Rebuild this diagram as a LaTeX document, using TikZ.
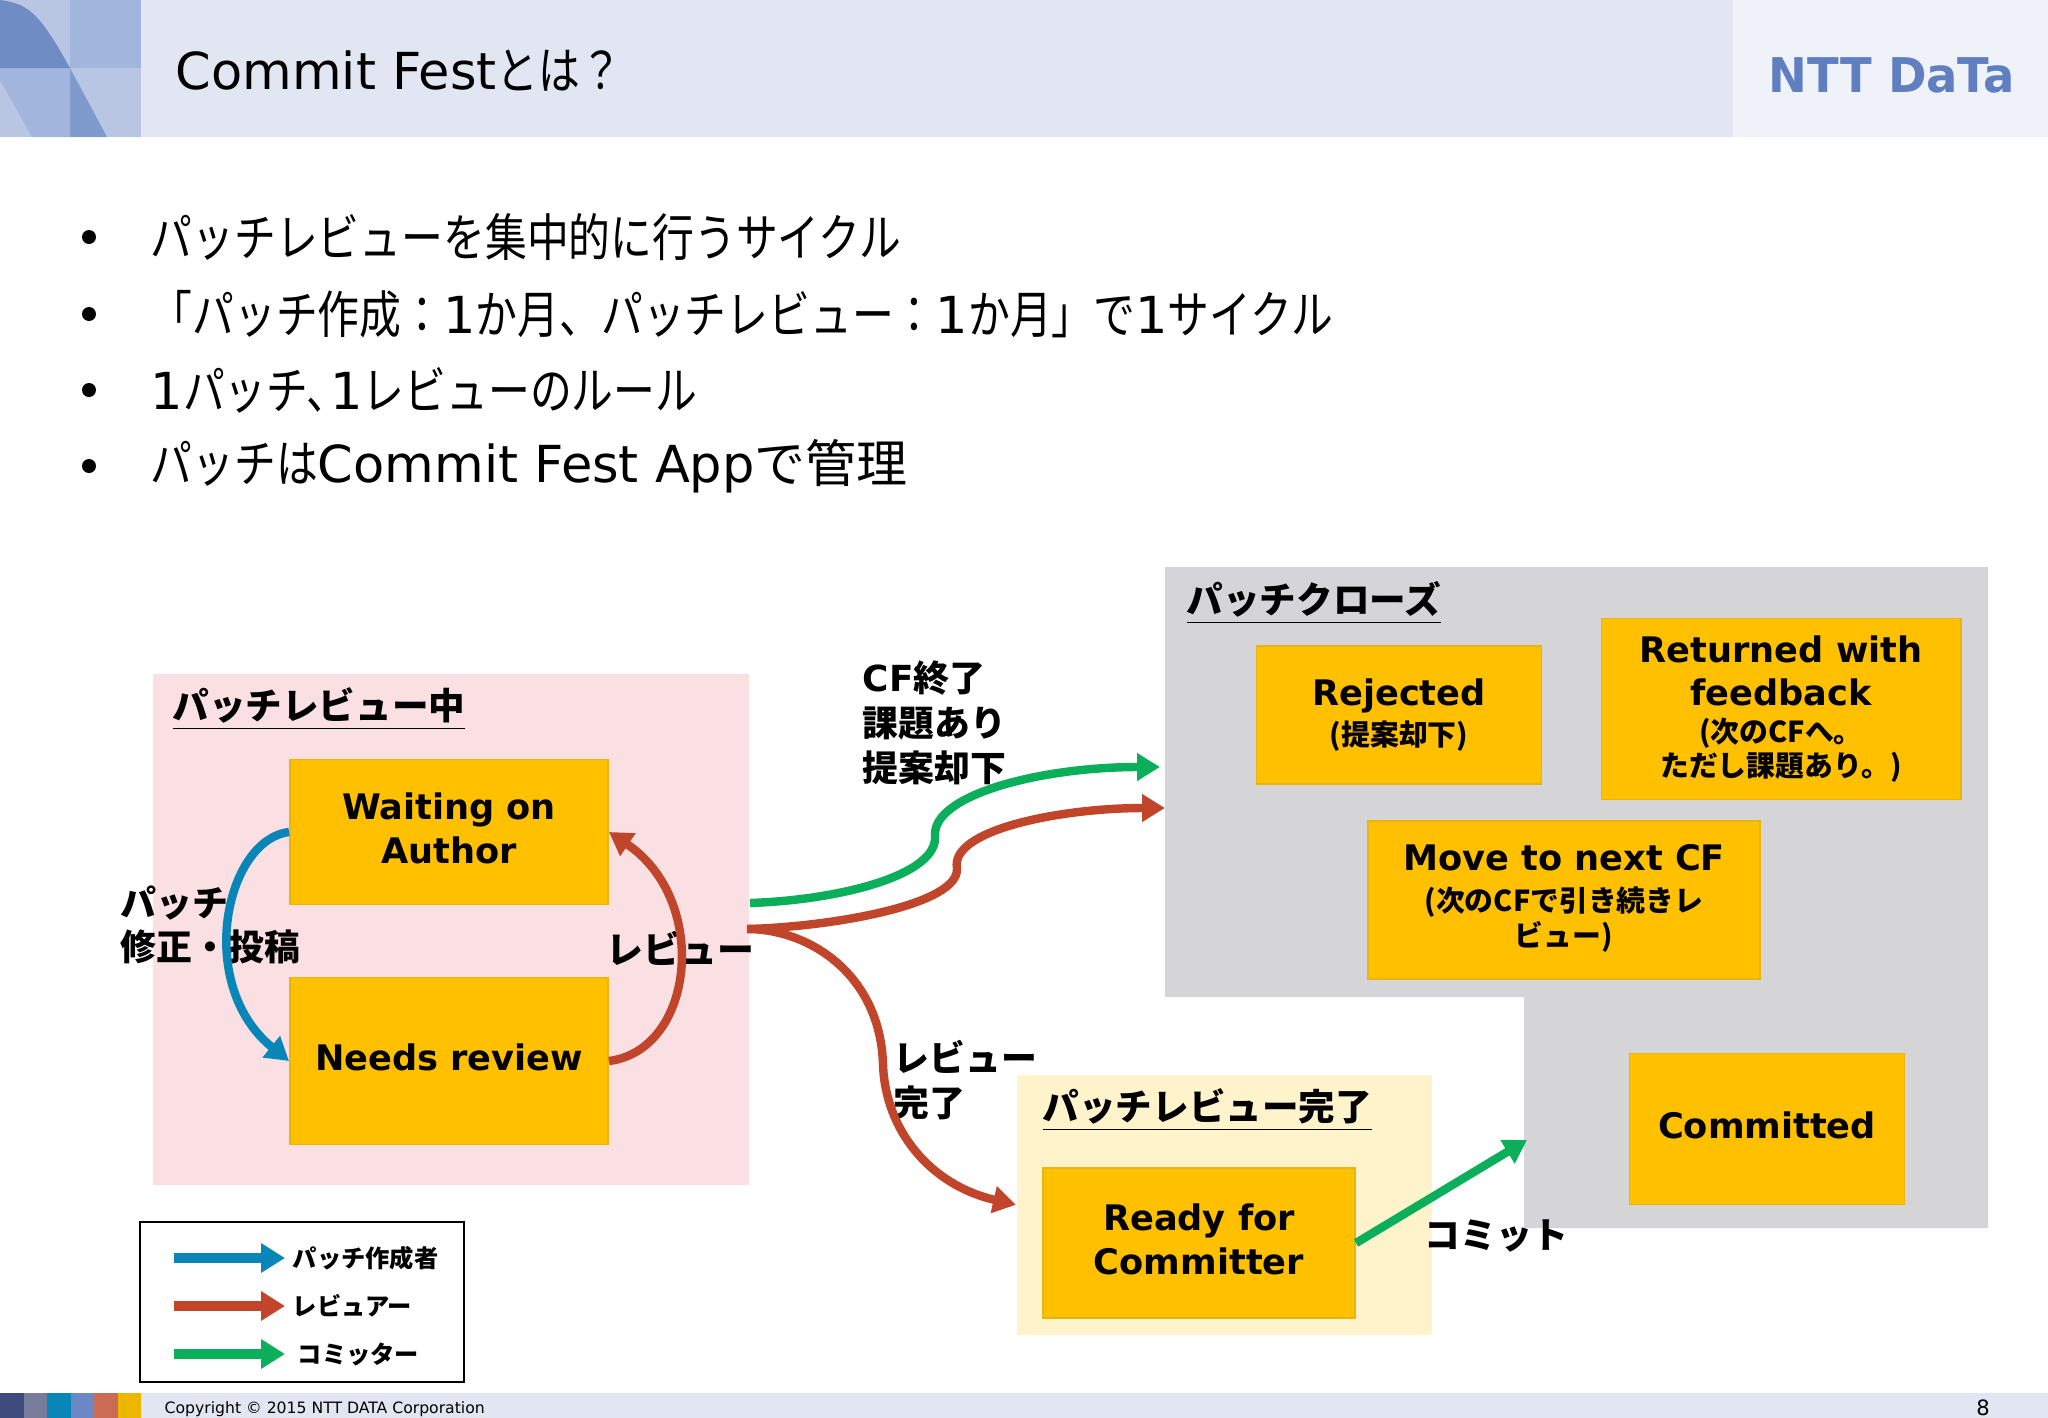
\documentclass[tikz,border=0pt]{standalone}
\usepackage{fontspec}
\usetikzlibrary{arrows.meta}
\setmainfont{DejaVu Sans}
\newfontfamily\jp{Noto Sans CJK JP}
\newfontfamily\jpthin[FakeStretch=.82]{Noto Sans CJK JP}
\newfontfamily\logofont[FakeStretch=.97]{DejaVu Sans}
\newcommand\subjp{\jp\fontsize{8.2pt}{10pt}\selectfont}
\newcommand\uptxt[1]{\raisebox{1.1pt}[\height][\depth]{#1}}
\definecolor{headbg}{HTML}{E1E6F2}
\definecolor{headlt}{HTML}{EFF3F9}
\definecolor{logoa}{HTML}{B8C6E4}
\definecolor{logob}{HTML}{A2B5DC}
\definecolor{logoc}{HTML}{6F8CC4}
\definecolor{logod}{HTML}{7F9BCD}
\definecolor{nttblue}{HTML}{5F7FC0}
\definecolor{stateor}{HTML}{FFC000}
\definecolor{stateln}{HTML}{E6B512}
\definecolor{pinkbg}{HTML}{FBE0E3}
\definecolor{creambg}{HTML}{FFF3CB}
\definecolor{greybg}{HTML}{D5D5D8}
\definecolor{authorc}{HTML}{0A85B8}
\definecolor{reviewc}{HTML}{C0452A}
\definecolor{commitc}{HTML}{0BAE5A}

\begin{document}
\begin{tikzpicture}[
        x=.01cm, y=-.01cm,
        state/.style={draw=stateln, line width=.5pt, fill=stateor, align=center, inner sep=0pt,
            font=\fontsize{10pt}{12.4pt}\selectfont\bfseries},
        zone/.style={inner sep=0pt, anchor=north west},
        zonetitle/.style={anchor=west, inner sep=0pt, font=\fontsize{10.4pt}{12pt}\selectfont\bfseries},
        lbl/.style={anchor=west, inner sep=0pt, align=left, font=\fontsize{10.2pt}{12.7pt}\selectfont\bfseries},
        bullet/.style={anchor=west, inner sep=0pt, font=\fontsize{14.5pt}{17pt}\selectfont},
        flow/.style={line width=2.4pt, -{Triangle[length=6.5pt, width=7.5pt]}},
        legendarrow/.style={line width=2.6pt, -{Triangle[length=6.8pt, width=8pt]}},
    ]
    \useasboundingbox (0, 0) rectangle (2048, 1418);

    %% header band and logo
    \fill[headbg] (0, 0) rectangle (1733, 137);
    \fill[headlt] (1733, 0) rectangle (2048, 137);
    \fill[logoa] (0, 0) rectangle (141, 137);
    \fill[logob] (70, 0) rectangle (141, 68);
    \fill[logob] (0, 68) -- (70, 68) -- (70, 137) -- (32, 137) -- (0, 80) -- cycle;
    \fill[logod] (70, 68) -- (107, 137) -- (70, 137) -- cycle;
    \fill[logoc] (0, 0) .. controls (27, 4) and (38, 10) .. (70, 68) -- (0, 68) -- cycle;
    \node[anchor=west, inner sep=0pt, font=\fontsize{14.5pt}{18pt}\selectfont] (title) at (175, 71)
        {Commit Fest{\jpthin とは？}};
    \node[anchor=west, inner sep=0pt, text=nttblue, font=\fontsize{13.6pt}{16pt}\selectfont\bfseries] (logo) at (1768, 75)
        {\logofont NTT DaTa};

    %% bullet list
    \foreach \i/\y/\t in {1/237/{パッチレビューを集中的に行うサイクル},
            2/314/{「パッチ作成：{\rmfamily 1}か月、パッチレビュー：{\rmfamily 1}か月」で{\rmfamily 1}サイクル},
            3/390/{{\rmfamily 1}パッチ、\hspace{-5pt}{\rmfamily 1}レビューのルール},
            4/466/{パッチは{\rmfamily Commit Fest App}{\jp で管理}}}{
        \fill (89, \y) circle (7);
        \node[bullet] (bul\i) at (150, \y) {\jpthin \t};
    }

    %% the three zones
    \node[zone, fill=pinkbg, minimum width=5.96cm, minimum height=5.11cm] (reviewzone) at (152, 673) {};
    \node[zone, fill=creambg, minimum width=4.15cm, minimum height=2.60cm] (donezone) at (1016, 1074) {};
    \fill[greybg] (1165, 567) -- (1988, 567) -- (1988, 1228) -- (1524, 1228) -- (1524, 997) -- (1165, 997) -- cycle;
    \node[zonetitle] (reviewtitle) at (172, 709) {\jp\underline{パッチレビュー中}};
    \node[zonetitle] (closetitle) at (1186, 603) {\jp\underline{パッチクローズ}};
    \node[zonetitle] (donetitle) at (1042, 1110) {\jp\underline{パッチレビュー完了}};

    %% states
    \node[state, minimum width=3.18cm, minimum height=1.45cm] (waiting) at (449, 832) {\uptxt{Waiting on}\\\uptxt{Author}};
    \node[state, minimum width=3.18cm, minimum height=1.67cm] (needs) at (449, 1061) {\uptxt{Needs review}};
    \node[state, minimum width=2.85cm, minimum height=1.38cm] (rejected) at (1399, 715)
        {Rejected\\[-1pt]{\subjp (提案却下)}};
    \node[state, minimum width=3.59cm, minimum height=1.81cm] (returned) at (1781, 709)
        {Returned with\\feedback\\[-1.8pt]{\subjp (次のCFへ。}\\[-2.8pt]{\subjp ただし課題あり。)}};
    \node[state, minimum width=3.92cm, minimum height=1.58cm] (movenext) at (1564, 900)
        {\uptxt{Move to next CF}\\[-1.8pt]{\subjp (次のCFで引き続きレ}\\[-2.4pt]{\subjp ビュー)}};
    \node[state, minimum width=2.75cm, minimum height=1.51cm] (committed) at (1767, 1129) {\uptxt{Committed}};
    \node[state, minimum width=3.12cm, minimum height=1.50cm] (ready) at (1199, 1243) {\uptxt{Ready for}\\\uptxt{Committer}};

    %% labels
    \node[lbl] (fixlbl) at (120, 925) {{\jp パッチ}\\{\jp 修正・投稿}};
    \node[lbl] (reviewlbl) at (606, 948) {\jp\fontsize{10.5pt}{12pt}\selectfont レビュー};
    \node[lbl] (closelbl) at (862, 723) {CF{\jp 終了}\\{\jp 課題あり}\\{\jp 提案却下}};
    \node[lbl] (donelbl) at (893, 1080) {{\jp レビュー}\\{\jp 完了}};
    \node[lbl] (commitlbl) at (1424, 1236) {\jp コミット};

    %% flows between the states
    \coordinate (greenout) at (750, 903);
    \coordinate (greenmid) at (935, 836);
    \coordinate (greenin) at (1160, 767);
    \coordinate (redout) at (747, 929);
    \coordinate (redmid) at (957, 868);
    \coordinate (redin) at (1165, 808);
    \coordinate (donemid) at (883, 1064);
    \coordinate (commitin) at (1527, 1140);
    \draw[flow, authorc] (waiting.west) .. controls (225, 840) and (195, 985) .. (needs.west);
    \draw[flow, reviewc] (needs.east) .. controls (695, 1050) and (710, 900) .. (waiting.east);
    \draw[flow, commitc] (greenout) .. controls (840, 900) and (938, 875) .. (greenmid)
        .. controls (932, 795) and (1040, 767) .. (greenin);
    \draw[flow, reviewc] (redout) .. controls (830, 927) and (960, 905) .. (redmid)
        .. controls (950, 830) and (1060, 808) .. (redin);
    \draw[flow, reviewc] (redout) .. controls (810, 929) and (880, 975) .. (donemid)
        .. controls (885, 1130) and (930, 1185) .. (donezone.west);
    \draw[flow, commitc] (ready.east) -- (commitin);

    %% legend
    \node[zone, draw=black, line width=.6pt, minimum width=3.24cm, minimum height=1.60cm] (legendbox) at (139, 1221) {};
    \foreach \i/\y/\c/\t/\dx in {1/1258/authorc/パッチ作成者/0, 2/1306/reviewc/レビュアー/0, 3/1354/commitc/コミッター/5}{
        \coordinate (legfrom\i) at (174, \y);
        \node[anchor=west, inner sep=2pt, font=\fontsize{6.9pt}{8pt}\selectfont\bfseries] (legto\i) at (285+\dx, \y) {\jp \t};
        \draw[legendarrow, \c] (legfrom\i) -- (285, \y);
    }

    %% footer
    \fill[headbg] (141, 1393) rectangle (2048, 1418);
    \foreach \c [count=\i from 0] in {3F4A7D, 777C9A, 0A85B8, 6A87C6, CB6A55, EDB600}{
        \definecolor{strip}{HTML}{\c}
        \fill[strip] (23.5*\i, 1393) rectangle ++(23.5, 25);
    }
    \node[anchor=west, inner sep=0pt, font=\fontsize{4.45pt}{5pt}\selectfont] (copyright) at (164, 1409)
        {Copyright © 2015 NTT DATA Corporation};
    \node[inner sep=0pt, font=\fontsize{6pt}{7pt}\selectfont] (pagenum) at (1983, 1408) {8};
\end{tikzpicture}
\end{document}
